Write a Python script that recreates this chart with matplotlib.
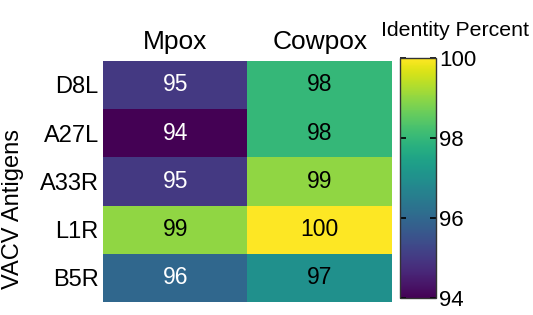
import numpy as np
import matplotlib
matplotlib.use("Agg")
import matplotlib.pyplot as plt

plt.rcParams['font.family'] = ['Liberation Sans', 'DejaVu Sans']

antigens = ["D8L", "A27L", "A33R", "L1R", "B5R"]
viruses = ["Mpox", "Cowpox"]
mpox = [95, 94, 95, 99, 96]
cowpox = [98, 98, 99, 100, 97]
cbar_ticks = [94, 96, 98, 100]

vals = np.column_stack([mpox, cowpox])

fig = plt.figure(figsize=(5.33, 3.15), dpi=100)
ax = fig.add_axes([0.1932, 0.0422, 0.5422, 0.765])
cax = fig.add_axes([0.7514, 0.054, 0.0666, 0.762])

im = ax.imshow(vals, cmap="viridis", vmin=94, vmax=100, aspect="auto")

for i in range(vals.shape[0]):
    for j in range(vals.shape[1]):
        v = vals[i, j]
        ax.text(j, i, str(v), ha="center", va="center", fontsize=16.5,
                color="white" if v <= 96 else "black")

ax.set_xticks(range(len(viruses)))
ax.set_xticklabels(viruses, fontsize=19)
ax.xaxis.tick_top()
ax.set_yticks(range(len(antigens)))
ax.set_yticklabels(antigens, fontsize=17)
ax.tick_params(axis='y', length=0, pad=3)
ax.tick_params(axis='x', length=0, pad=5)
for s in ax.spines.values():
    s.set_visible(False)
ax.set_ylabel("VACV Antigens", fontsize=17)
ax.yaxis.set_label_coords(-0.275, 0.385)

cb = fig.colorbar(im, cax=cax, ticks=cbar_ticks)
cb.ax.tick_params(direction="in", left=True, right=True, length=4, width=1.2,
                  labelsize=16, pad=2)
cb.outline.set_edgecolor("#333333")
cb.outline.set_linewidth(1)
fig.text(0.853, 0.903, "Identity Percent", ha="center", va="center", fontsize=15.3)

fig.savefig("out.png", dpi=100)
